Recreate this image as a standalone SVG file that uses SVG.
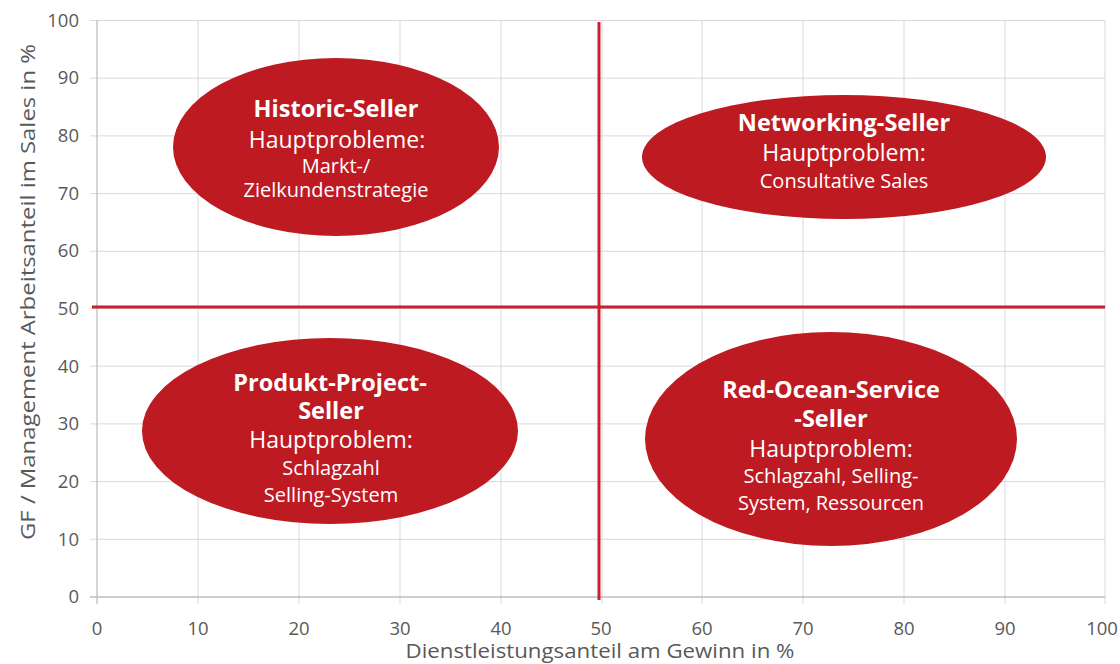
<svg xmlns="http://www.w3.org/2000/svg" width="1120" height="664" viewBox="0 0 1120 664">
  <style>
    .grid { stroke: #d9d9d9; stroke-width: 1; fill: none; }
    .axis { stroke: #bfbfbf; stroke-width: 1.3; fill: none; }
    .tick { font-family: "Open Sans", "Noto Sans", sans-serif; font-size: 18.5px; fill: #595959; }
    .title { font-family: "Open Sans", "Noto Sans", sans-serif; font-size: 20px; fill: #595959; text-anchor: middle; }
    .quad { stroke: #c8202c; stroke-width: 3; fill: none; }
    .blob { fill: #be1a22; }
    .head { font-family: "Open Sans", "Noto Sans", sans-serif; font-size: 23.5px; font-weight: bold; fill: #ffffff; text-anchor: middle; }
    .main { font-family: "Open Sans", "Noto Sans", sans-serif; font-size: 23px; fill: #ffffff; text-anchor: middle; }
    .sub { font-family: "Open Sans", "Noto Sans", sans-serif; font-size: 20px; fill: #ffffff; text-anchor: middle; }
  </style>
  <rect width="1120" height="664" fill="#ffffff"/>

  <!-- gridlines -->
  <g id="grid">
    <path class="grid" d="M90 20.5H1105M90 78.2H1105M90 135.9H1105M90 193.6H1105M90 251.3H1105M90 308.5H1105M90 366.2H1105M90 423.9H1105M90 481.6H1105M90 539.3H1105"/>
    <path class="grid" d="M198 20V604M299 20V604M400 20V604M501 20V604M602 20V604M702 20V604M803 20V604M904 20V604M1005 20V604M1105 20V604"/>
    <path class="axis" d="M90 597H1105M97 20V604"/>
  </g>

  <!-- tick labels -->
  <g id="y-ticks" class="tick" text-anchor="end">
    <text x="79" y="27">100</text>
    <text x="79" y="84">90</text>
    <text x="79" y="142">80</text>
    <text x="79" y="200">70</text>
    <text x="79" y="257">60</text>
    <text x="79" y="315">50</text>
    <text x="79" y="373">40</text>
    <text x="79" y="430">30</text>
    <text x="79" y="488">20</text>
    <text x="79" y="546">10</text>
    <text x="79" y="603">0</text>
  </g>
  <g id="x-ticks" class="tick" text-anchor="middle">
    <text x="97" y="635">0</text>
    <text x="198" y="635">10</text>
    <text x="299" y="635">20</text>
    <text x="400" y="635">30</text>
    <text x="501" y="635">40</text>
    <text x="601" y="635">50</text>
    <text x="702" y="635">60</text>
    <text x="803" y="635">70</text>
    <text x="904" y="635">80</text>
    <text x="1005" y="635">90</text>
    <text x="1102" y="635">100</text>
  </g>

  <!-- axis titles -->
  <text class="title" x="600" y="658" textLength="389" lengthAdjust="spacingAndGlyphs">Dienstleistungsanteil am Gewinn in %</text>
  <text class="title" transform="translate(35 292) rotate(-90)" textLength="496" lengthAdjust="spacingAndGlyphs">GF / Management Arbeitsanteil im Sales in %</text>

  <!-- quadrant dividers -->
  <g id="connectors">
    <path class="quad" d="M599 22V600"/>
    <path class="quad" d="M92 307H1105"/>
  </g>

  <!-- quadrant nodes -->
  <g id="historic-seller">
    <ellipse class="blob" cx="336" cy="147" rx="163" ry="89"/>
    <text class="head" x="336" y="117">Historic-Seller</text>
    <text class="main" x="337" y="148">Hauptprobleme:</text>
    <text class="sub" x="336" y="173">Markt-/</text>
    <text class="sub" x="336" y="197">Zielkundenstrategie</text>
  </g>

  <g id="networking-seller">
    <ellipse class="blob" cx="844" cy="157" rx="202" ry="62"/>
    <text class="head" x="844" y="131">Networking-Seller</text>
    <text class="main" x="844" y="161">Hauptproblem:</text>
    <text class="sub" x="844" y="188">Consultative Sales</text>
  </g>

  <g id="produkt-project-seller">
    <ellipse class="blob" cx="330" cy="431" rx="188" ry="93"/>
    <text class="head" x="330" y="391">Produkt-Project-</text>
    <text class="head" x="331" y="419">Seller</text>
    <text class="main" x="331" y="448">Hauptproblem:</text>
    <text class="sub" x="331" y="475">Schlagzahl</text>
    <text class="sub" x="331" y="502">Selling-System</text>
  </g>

  <g id="red-ocean-service-seller">
    <ellipse class="blob" cx="831" cy="439" rx="186" ry="107"/>
    <text class="head" x="831" y="398">Red-Ocean-Service</text>
    <text class="head" x="831" y="427">-Seller</text>
    <text class="main" x="831" y="457">Hauptproblem:</text>
    <text class="sub" x="831" y="483">Schlagzahl, Selling-</text>
    <text class="sub" x="831" y="510">System, Ressourcen</text>
  </g>
</svg>
